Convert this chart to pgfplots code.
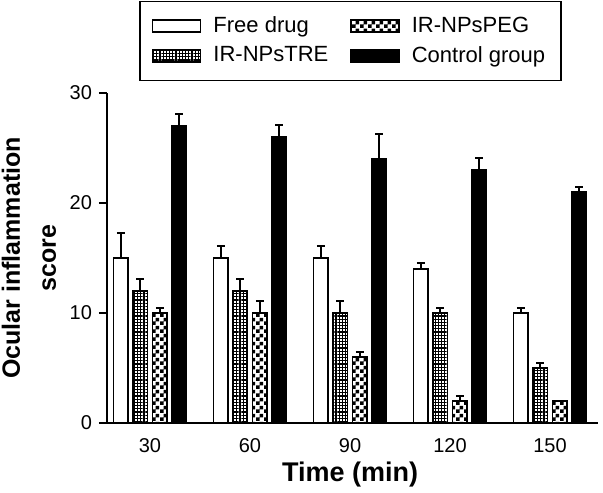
\documentclass[border=0pt]{standalone}
\usepackage{fontspec}
\setmainfont{Liberation Sans}
\usepackage{pgfplots}
\pgfplotsset{compat=1.18}
\usetikzlibrary{patterns,patterns.meta}
\pgfdeclarepatternformonly{smallchecker}{\pgfpointorigin}{\pgfqpoint{4pt}{4pt}}{\pgfqpoint{4pt}{4pt}}{%
  \pgfpathrectangle{\pgfpointorigin}{\pgfqpoint{2pt}{2pt}}%
  \pgfpathrectangle{\pgfqpoint{2pt}{2pt}}{\pgfqpoint{2pt}{2pt}}%
  \pgfusepath{fill}}
\begin{document}
\begin{tikzpicture}
\useasboundingbox (-53.5pt,-34.5pt) rectangle (248pt,211.5pt);
\begin{axis}[
  at={(0,0)}, anchor=south west,
  width=245.5pt, height=165pt, scale only axis,
  xmin=-0.43, xmax=4.48, ymin=0, ymax=30,
  axis x line*=bottom, axis y line*=left,
  x axis line style={-}, y axis line style={-},
  axis line style={line width=1pt},
  xtick={0,1,2,3,4}, xticklabels={30,60,90,120,150},
  x tick style={draw=none},
  ytick={0,10,20,30},
  y tick style={line width=1pt, black},
  tick align=outside, major tick length=4pt,
  /pgf/number format/assume math mode=true,
  tick label style={font=\fontsize{10}{12}\selectfont},
  xlabel={Time (min)},
  every axis x label/.style={at={([yshift=-26pt]axis description cs:0.495,0)}, anchor=center, font=\bfseries\fontsize{13.5}{16}\selectfont},
  ylabel={Ocular inflammation\\score},
  every axis y label/.style={at={([xshift=-39pt]axis description cs:0,0.5)}, anchor=center, rotate=90, align=center, font=\bfseries\fontsize{12.5}{18}\selectfont},
  error bars/y dir=plus, error bars/y explicit,
  error bars/error bar style={line width=1pt, black},
  error bars/error mark options={rotate=90, mark size=2pt, line width=1pt, black},
  legend image code/.code={\draw[#1, line width=0.75pt] (0pt,-3pt) rectangle (24pt,3pt);},
  legend columns=2, transpose legend,
  legend cell align=left,
  legend style={at={(axis description cs:0.496,1)}, anchor=south, yshift=6pt,
    draw=black, line width=0.75pt, font=\fontsize{11}{13}\selectfont,
    inner xsep=6pt, inner ysep=5.5pt, row sep=1.5pt,
    /tikz/every odd column/.append style={column sep=4pt},
    /tikz/every even column/.append style={column sep=9pt}},
]
\addplot[ybar, bar width=0.145, bar shift=0, draw=black, line width=0.9pt, fill=white]
  coordinates {(-0.2925,15) +- (0,2.25) (0.7075,15) +- (0,1.1) (1.7075,15) +- (0,1.1) (2.7075,14) +- (0,0.55) (3.7075,10) +- (0,0.5)};
\addlegendentry{Free drug}
\addplot[ybar, bar width=0.145, bar shift=0, draw=black, line width=0.9pt, pattern={Hatch[distance=1.6pt, line width=0.55pt]}]
  coordinates {(-0.0975,12) +- (0,1.1) (0.9025,12) +- (0,1.1) (1.9025,10) +- (0,1.1) (2.9025,10) +- (0,0.5) (3.9025,5) +- (0,0.5)};
\addlegendentry{IR-NPsTRE}
\addplot[ybar, bar width=0.145, bar shift=0, draw=black, line width=0.9pt, pattern=smallchecker]
  coordinates {(0.0975,10) +- (0,0.5) (1.0975,10) +- (0,1.1) (2.0975,6) +- (0,0.5) (3.0975,2) +- (0,0.5) (4.0975,2) +- (0,0)};
\addlegendentry{IR-NPsPEG}
\addplot[ybar, bar width=0.145, bar shift=0, draw=black, line width=0.9pt, fill=black]
  coordinates {(0.2925,27) +- (0,1.1) (1.2925,26) +- (0,1.1) (2.2925,24) +- (0,2.3) (3.2925,23) +- (0,1.1) (4.2925,21) +- (0,0.5)};
\addlegendentry{Control group}
\end{axis}
\end{tikzpicture}
\end{document}
